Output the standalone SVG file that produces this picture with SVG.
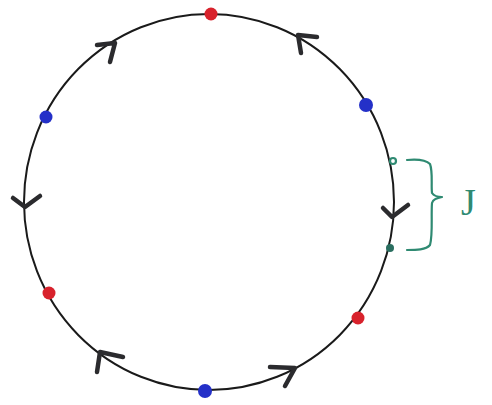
<svg xmlns="http://www.w3.org/2000/svg" width="492" height="405" viewBox="0 0 492 405">
<style>
.ring{fill:none;stroke:#1a1a1a;stroke-width:2}
.arr{fill:none;stroke:#2b2b2e;stroke-width:4.5;stroke-linecap:round;stroke-linejoin:round}
.red{fill:#d8222c}
.blue{fill:#2430c8}
.teal{fill:none;stroke:#2f8a72;stroke-width:2.2;stroke-linecap:round;stroke-linejoin:round}
.tealdot{fill:#2a6e60}
.lbl{font-family:"Liberation Serif",serif;font-size:38px;fill:#2f8a72}
</style>
<rect width="492" height="405" fill="#ffffff"/>
<g id="circle"><ellipse class="ring" cx="209" cy="202" rx="185" ry="188"/></g>
<g id="connectors">
<path class="arr" d="M97 45 L115 43 L110 62"/>
<path class="arr" d="M317 37 L298 35 L301 53"/>
<path class="arr" d="M13 198 L25 207 L40 196"/>
<path class="arr" d="M383 208 L392 217 L408 205"/>
<path class="arr" d="M123 357 L100 352 L97 372"/>
<path class="arr" d="M270 367 L295 368 L285 386"/>
</g>
<g id="node-red-top"><circle class="red" cx="211" cy="14" r="6.5"/></g>
<g id="node-blue-right"><circle class="blue" cx="366" cy="105" r="7"/></g>
<g id="node-blue-left"><circle class="blue" cx="46" cy="117" r="6.5"/></g>
<g id="node-red-left"><circle class="red" cx="49" cy="293" r="6.5"/></g>
<g id="node-red-right"><circle class="red" cx="358" cy="318" r="6.5"/></g>
<g id="node-blue-bottom"><circle class="blue" cx="205" cy="391" r="7"/></g>
<g id="node-open"><circle class="teal" cx="393" cy="161" r="3" stroke-width="1.5"/></g>
<g id="node-teal"><circle class="tealdot" cx="390" cy="248" r="4"/></g>
<g id="brace">
<path class="teal" d="M407 160 C418 159 426 160 430 164 C433 172 431 185 432 193 C434 196 438 197 442 197 C437 198 433 199 432 203 C431 215 433 235 430 245 C426 250 416 250 407 250"/>
<text class="lbl" x="461" y="215">J</text>
</g>
</svg>
